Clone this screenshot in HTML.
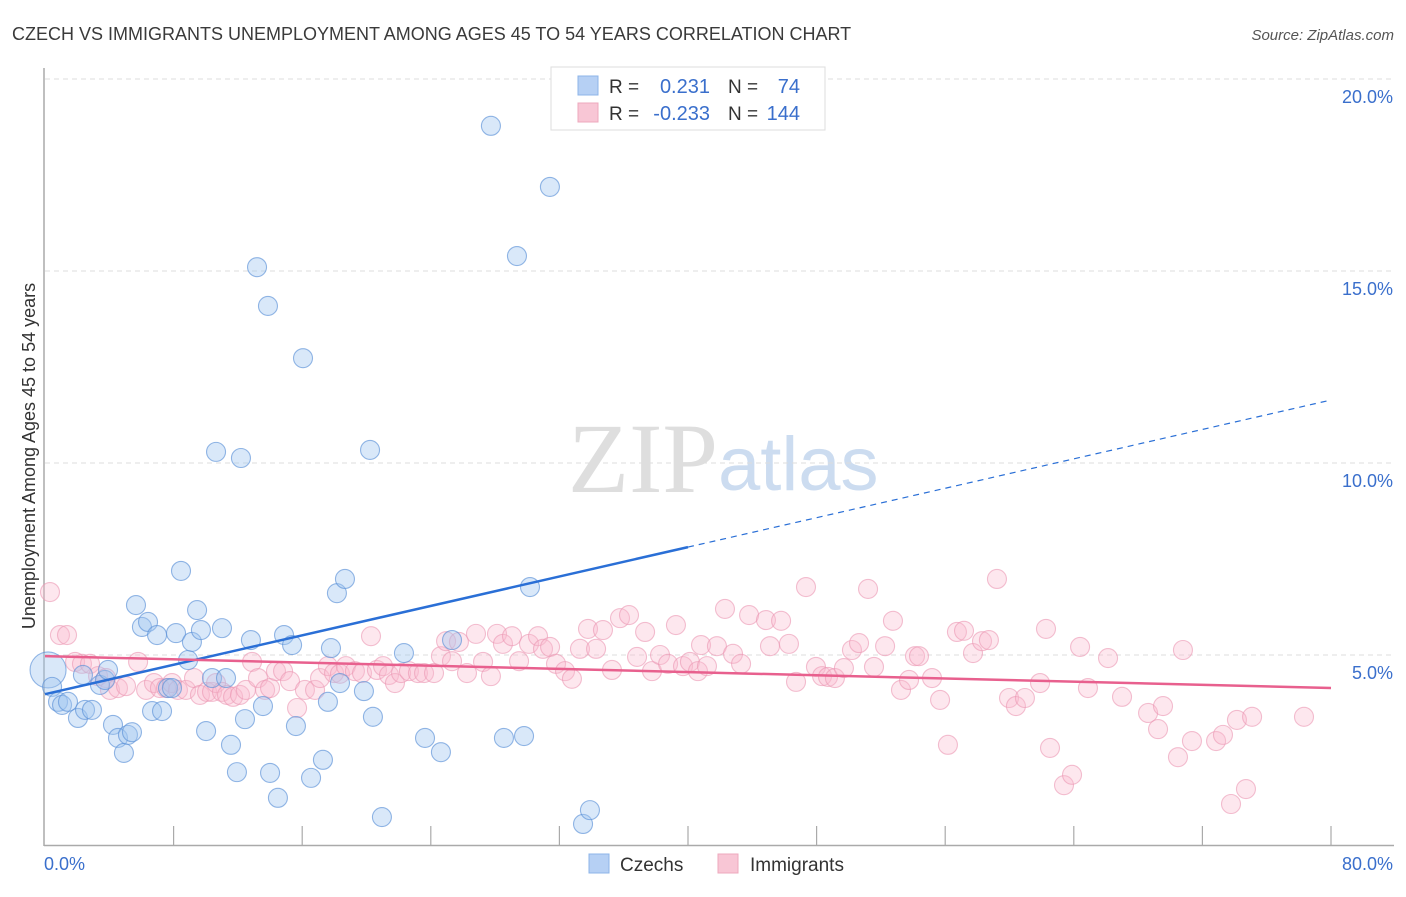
<!DOCTYPE html>
<html><head><meta charset="utf-8"><style>
body{margin:0;background:#fff;font-family:"Liberation Sans",sans-serif}
svg text{font-family:"Liberation Sans",sans-serif}
</style></head><body>
<svg id="chart" width="1406" height="892" xmlns="http://www.w3.org/2000/svg">
<text x="12" y="40" font-size="18" fill="#3a3a3a">CZECH VS IMMIGRANTS UNEMPLOYMENT AMONG AGES 45 TO 54 YEARS CORRELATION CHART</text>
<text x="1394" y="40" font-size="15" fill="#555" font-style="italic" text-anchor="end">Source: ZipAtlas.com</text>
<text x="718" y="492" font-size="100" fill="#dedede" text-anchor="end" style="font-family:'Liberation Serif',serif">ZIP</text>
<text x="718" y="490" font-size="76" fill="#ccdcf0">atlas</text>
<g id="grid"></g>
<g id="axes"></g>
<g id="pts"></g>
<g id="trend"></g>
<text transform="translate(35,456) rotate(-90)" font-size="18" fill="#333" text-anchor="middle">Unemployment Among Ages 45 to 54 years</text>
<g>
<rect x="551" y="67" width="274" height="63" fill="#fff" stroke="#ddd"/>
<rect x="578" y="76" width="20" height="19" fill="#b6d0f4" stroke="#8db4e8"/>
<rect x="578" y="103" width="20" height="19" fill="#f8c6d5" stroke="#eea8bd"/>
<text x="609" y="93" font-size="19" fill="#333">R =</text><text x="710" y="93" font-size="20" fill="#3a6fcc" text-anchor="end">0.231</text>
<text x="728" y="93" font-size="19" fill="#333">N =</text><text x="800" y="93" font-size="20" fill="#3a6fcc" text-anchor="end">74</text>
<text x="609" y="120" font-size="19" fill="#333">R =</text><text x="710" y="120" font-size="20" fill="#3a6fcc" text-anchor="end">-0.233</text>
<text x="728" y="120" font-size="19" fill="#333">N =</text><text x="800" y="120" font-size="20" fill="#3a6fcc" text-anchor="end">144</text>
</g>
<g>
<rect x="589" y="854" width="20" height="19" fill="#b6d0f4" stroke="#8db4e8"/>
<text x="620" y="871" font-size="19" fill="#333">Czechs</text>
<rect x="718" y="854" width="20" height="19" fill="#f8c6d5" stroke="#eea8bd"/>
<text x="750" y="871" font-size="19" fill="#333">Immigrants</text>
</g>
</svg>
<script>
const czX=[0.19,0.44,0.81,1.06,1.43,2.05,2.49,2.92,3.42,3.73,3.92,2.36,4.23,4.54,4.91,5.16,5.41,5.66,6.03,6.41,6.66,6.97,7.28,7.65,7.90,8.15,8.46,8.90,9.14,9.46,9.70,10.02,10.39,10.64,11.01,11.26,11.57,11.94,12.19,12.44,12.81,13.19,13.56,13.87,14.00,14.49,14.87,15.37,15.61,16.05,16.55,17.29,17.60,17.79,18.16,18.35,18.66,19.84,20.22,20.40,20.96,22.33,23.64,24.63,25.32,27.74,28.55,29.36,29.80,30.17,31.41,33.47,33.90];
const czY=[4.61,4.17,3.78,3.70,3.78,3.36,3.57,3.57,4.22,4.35,4.61,4.48,3.18,2.84,2.45,2.92,2.99,6.30,5.73,5.86,3.54,5.52,3.54,4.14,4.14,5.57,7.19,4.87,5.34,6.17,5.65,3.02,4.40,10.29,5.70,4.40,2.66,1.95,10.13,3.33,5.39,15.10,3.67,14.09,1.93,1.28,5.52,5.26,3.15,12.73,1.80,2.27,3.78,5.18,6.61,4.27,6.98,4.06,10.34,3.39,0.78,5.05,2.84,2.47,5.39,18.78,2.84,15.39,2.89,6.77,17.19,0.60,0.96];
const imX=[0.31,0.93,1.37,1.87,2.30,2.80,3.30,3.80,4.04,4.54,5.04,5.79,6.29,6.78,7.15,7.53,7.90,8.27,8.77,9.27,9.64,10.08,10.39,10.64,11.01,11.32,11.70,12.13,12.50,12.88,13.25,13.69,14.00,14.37,14.81,15.24,15.68,16.17,16.80,17.11,17.60,17.98,18.35,18.72,19.28,19.72,20.28,20.65,21.03,21.40,21.77,22.15,22.64,23.20,23.58,24.20,24.63,24.95,25.32,25.75,26.25,26.81,27.25,27.74,28.12,28.49,29.05,29.49,30.11,30.67,30.98,31.42,31.79,32.35,32.78,33.28,33.78,34.28,34.71,35.27,35.77,36.33,36.83,37.33,37.76,38.26,38.76,39.25,39.69,40.12,40.62,40.81,41.18,41.80,42.30,42.80,43.30,43.80,44.85,45.10,45.79,46.28,46.72,47.34,47.96,48.34,48.71,49.14,49.70,50.20,50.64,51.20,51.57,52.26,52.75,53.25,53.75,54.12,54.37,55.18,55.68,56.17,56.73,57.17,57.73,58.29,58.72,59.22,59.97,60.40,60.96,61.90,62.27,62.52,63.39,63.89,64.39,64.88,66.13,67.00,68.62,69.24,69.55,70.48,70.79,71.35,72.85,73.28,73.78,74.15,74.71,75.09,78.32];
const imY=[6.64,5.52,5.52,4.82,4.77,4.77,4.45,4.40,4.09,4.14,4.19,4.82,4.09,4.27,4.14,4.14,4.27,4.09,4.09,4.40,3.96,4.04,4.04,4.27,4.04,3.96,3.91,3.96,4.09,4.82,4.40,4.09,4.14,4.58,4.58,4.32,3.62,4.09,4.09,4.40,4.71,4.53,4.51,4.71,4.58,4.53,5.49,4.61,4.71,4.48,4.27,4.53,4.58,4.53,4.53,4.53,4.97,5.36,4.84,5.34,4.53,5.55,4.82,4.45,5.55,5.29,5.49,4.84,5.29,5.49,5.16,5.21,4.77,4.58,4.38,5.16,5.68,5.16,5.65,4.61,5.96,6.04,4.95,5.60,4.58,5.00,4.77,5.78,4.71,4.82,4.58,5.26,4.71,5.23,6.20,5.03,4.77,6.04,5.91,5.23,5.89,5.29,4.30,6.77,4.69,4.45,4.43,4.40,4.66,5.13,5.31,6.72,4.69,5.23,5.89,4.09,4.35,4.97,4.97,4.40,3.83,2.66,5.60,5.63,5.05,5.36,5.39,6.98,3.88,3.67,3.88,4.27,5.68,2.58,1.61,1.88,5.21,4.14,4.92,3.91,3.49,3.07,3.67,2.34,5.13,2.76,2.76,2.92,1.12,3.31,1.51,3.39,3.39];
const yTicks=[5,10,15,20];
const xTickLabels=["0.0%","80.0%"];
const czTrend=[3.98,11.64];
const imTrend=[4.97,4.14];
const czSolidEnd=40;

const NS="http://www.w3.org/2000/svg";
const X0=45,X1=1331,YB=847,YT=79;
const sx=v=>X0+(v/80)*(X1-X0);
const sy=v=>YB-(v/20)*(YB-YT);
function mk(t,a,p){const e=document.createElementNS(NS,t);for(const k in a)e.setAttribute(k,a[k]);p.appendChild(e);return e;}
const grid=document.getElementById('grid'),axes=document.getElementById('axes'),pts=document.getElementById('pts'),tr=document.getElementById('trend');
yTicks.forEach(v=>{
  const l=mk('line',{x1:X0,x2:1394,y1:sy(v),y2:sy(v),stroke:'#ddd','stroke-dasharray':'5,4'},grid);
  
  
  const t=mk('text',{x:1393,y:sy(v)+24,'font-size':18,fill:'#3a6fcc','text-anchor':'end'},grid);
  t.textContent=v.toFixed(1)+'%';
  
  
});
mk('line',{x1:44,x2:44,y1:68,y2:846,stroke:'#aaa','stroke-width':1.5},axes);
mk('line',{x1:44,x2:1394,y1:845.5,y2:845.5,stroke:'#aaa','stroke-width':1.5},axes);
for(let i=1;i<=10;i++){const x=sx(i*8);mk('line',{x1:x,x2:x,y1:826,y2:846,stroke:'#aaa','stroke-width':1.2},axes);}
let tl=mk('text',{x:44,y:870,'font-size':18,fill:'#3a6fcc'},axes);tl.textContent=xTickLabels[0];


tl=mk('text',{x:1393,y:870,'font-size':18,fill:'#3a6fcc','text-anchor':'end'},axes);tl.textContent=xTickLabels[1];


imX.forEach((x,i)=>{
  const c=mk('circle',{cx:sx(x),cy:sy(imY[i]),r:9.5,fill:'rgba(248,186,205,0.35)',stroke:'rgba(235,150,178,0.6)','stroke-width':1.1},pts);
  
  
});
czX.forEach((x,i)=>{
  const c=mk('circle',{cx:sx(x),cy:sy(czY[i]),r:i===0?18:9.5,fill:'rgba(160,198,240,0.4)',stroke:'rgba(90,145,215,0.65)','stroke-width':1.1},pts);
  
  
});
const cz=x=>czTrend[0]+(czTrend[1]-czTrend[0])*x/80;
const im=x=>imTrend[0]+(imTrend[1]-imTrend[0])*x/80;
let l=mk('line',{x1:sx(0),y1:sy(cz(0)),x2:sx(czSolidEnd),y2:sy(cz(czSolidEnd)),stroke:'#2a6fd6','stroke-width':2.5},tr);


l=mk('line',{x1:sx(czSolidEnd),y1:sy(cz(czSolidEnd)),x2:sx(80),y2:sy(cz(80)),stroke:'#2a6fd6','stroke-width':1.2,'stroke-dasharray':'6,5'},tr);


l=mk('line',{x1:sx(0),y1:sy(im(0)),x2:sx(80),y2:sy(im(80)),stroke:'#e8608e','stroke-width':2.5},tr);


</script>
</body></html>
